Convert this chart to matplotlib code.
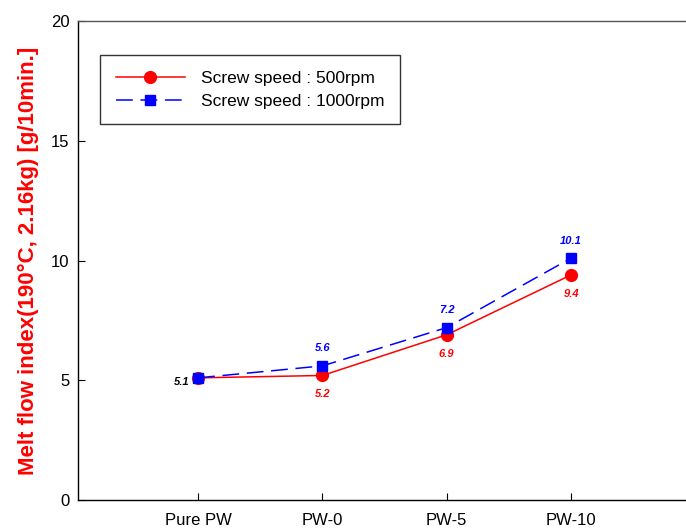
import matplotlib.pyplot as plt

plt.rcParams['font.family'] = ['Liberation Sans', 'DejaVu Sans']

# data
samples = ['Pure PW', 'PW-0', 'PW-5', 'PW-10']
mfi_500 = [5.1, 5.2, 6.9, 9.4]
mfi_1000 = [5.1, 5.6, 7.2, 10.1]
label_500 = ['5.1', '5.2', '6.9', '9.4']
label_1000 = ['', '5.6', '7.2', '10.1']

fig = plt.figure(figsize=(6.86, 5.29), dpi=100)
ax = fig.add_axes([0.1137, 0.0548, 0.92, 0.9055])

x = list(range(len(samples)))
ax.plot(x, mfi_500, color='red', lw=1.1, marker='o', ms=8.5,
        label='Screw speed : 500rpm')
ax.plot(x, mfi_1000, color='blue', lw=1.1, marker='s', ms=7.5,
        dashes=(11, 5), label='Screw speed : 1000rpm')

# value labels
lab_kw = dict(textcoords='offset points', fontsize=8, fontweight='bold',
              fontstyle='italic')
for i, (a, b) in enumerate(zip(mfi_500, mfi_1000)):
    if i == 0:
        ax.annotate(label_500[i], (i, a), xytext=(-6, -3), ha='right',
                    va='center', color='black', **lab_kw)
        continue
    ax.annotate(label_500[i], (i, a), xytext=(0, -10), ha='center', va='top',
                color='red', **lab_kw)
    ax.annotate(label_1000[i], (i, b), xytext=(0, 9), ha='center',
                va='bottom', color='blue', **lab_kw)

ax.set_xlim(-0.966, 4.11)
ax.set_ylim(0, 20)
ax.set_xticks(x)
ax.set_xticklabels(samples)
ax.set_yticks([0, 5, 10, 15, 20])
ax.tick_params(direction='in', length=5, labelsize=12, pad=9)
ax.tick_params(axis='y', pad=6)
ax.spines['right'].set_visible(False)
for s in ['left', 'bottom', 'top']:
    ax.spines[s].set_linewidth(1.0)
ax.spines['top'].set_color('#555555')

ax.set_ylabel('Melt flow index(190\u00b0C, 2.16kg) [g/10min.]', color='red',
              fontsize=16, fontweight='bold', labelpad=9)

leg = ax.legend(loc='upper left', bbox_to_anchor=(100 / 686, 1 - 55 / 529),
                bbox_transform=fig.transFigure, fontsize=12.5, frameon=True,
                fancybox=False, borderpad=0.9, handlelength=4.0,
                handletextpad=0.9, labelspacing=0.45, borderaxespad=0)
leg.get_frame().set_edgecolor('black')
leg.get_frame().set_linewidth(1.0)

fig.savefig('out.png', dpi=100)
